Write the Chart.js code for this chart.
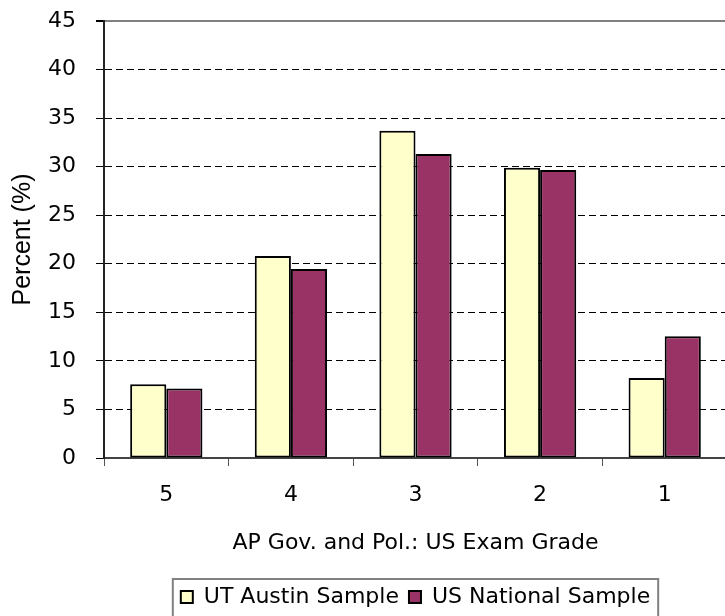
<!DOCTYPE html>
<html>
<head>
<meta charset="utf-8">
<script src="https://cdn.jsdelivr.net/npm/chart.js@4/dist/chart.umd.min.js"></script>
<style>
  html, body { margin: 0; padding: 0; background: #fff; overflow: hidden; }
</style>
</head>
<body>
<!-- a bit taller than the window: the legend frame runs off the bottom like in the original -->
<canvas id="c" width="727" height="618"></canvas>
<script>
const grades = ['5', '4', '3', '2', '1'];
const utAustin = [7.6, 20.8, 33.7, 29.9, 8.25];
const usNational = [7.15, 19.45, 31.3, 29.65, 12.55];
const yTicks = [0, 5, 10, 15, 20, 25, 30, 35, 40, 45];

// the reference is stretched sideways, so the wider DejaVu face fits the horizontal text better
const WIDE = '"DejaVu Sans", sans-serif';
const ARIAL = '"Liberation Sans", Arial, sans-serif';

// box around the legend, like the old excel style
const legendBox = {
  id: 'legendBox',
  afterDraw(chart) {
    const lg = chart.legend;
    if (!lg || !lg.legendHitBoxes.length) return;
    const boxes = lg.legendHitBoxes;
    const first = boxes[0], last = boxes[boxes.length - 1];
    const ctx = chart.ctx;
    ctx.save();
    ctx.strokeStyle = '#808080';
    ctx.lineWidth = 2;
    ctx.strokeRect(first.left - 8, first.top - 7, (last.left + last.width) - first.left + 16, 60);
    ctx.restore();
  }
};

new Chart(document.getElementById('c'), {
  type: 'bar',
  data: {
    labels: grades,
    datasets: [
      {
        label: 'UT Austin Sample',
        data: utAustin,
        backgroundColor: '#FFFFCC',
        borderColor: '#000',
        borderWidth: 2,
        borderSkipped: false
      },
      {
        label: 'US National Sample',
        data: usNational,
        backgroundColor: '#993366',
        borderColor: '#000',
        borderWidth: 2,
        borderSkipped: false
      }
    ]
  },
  options: {
    responsive: false,
    animation: false,
    devicePixelRatio: 1,
    layout: { padding: { top: 21, left: 0, right: 0, bottom: 0 } },
    datasets: { bar: { barPercentage: 1, categoryPercentage: 0.58 } },
    scales: {
      x: {
        grid: {
          offset: true,
          drawOnChartArea: false,
          tickLength: 8,
          tickColor: '#555',
          tickWidth: 1
        },
        border: { color: '#444', width: 2 },
        ticks: { color: '#000', padding: 16, font: { family: WIDE, size: 22 } },
        title: {
          display: true,
          text: 'AP Gov. and Pol.: US Exam Grade',
          color: '#000',
          font: { family: WIDE, size: 22 },
          padding: { top: 0, bottom: 20 }
        },
        afterFit(s) { s.height = 118; }
      },
      y: {
        min: 0,
        max: 45,
        afterBuildTicks(s) { s.ticks = yTicks.map(v => ({ value: v })); },
        grid: {
          color: ctx => ctx.tick.value === 45 ? '#808080' : (ctx.tick.value === 0 ? 'rgba(0,0,0,0)' : '#000'),
          lineWidth: ctx => ctx.tick.value === 45 ? 2 : 1,
          tickColor: '#000',
          tickLength: 8,
          tickBorderDash: []
        },
        border: {
          color: '#222',
          width: 2,
          dash: ctx => ctx.tick && ctx.tick.value === 45 ? [] : [7, 4]
        },
        ticks: { color: '#000', padding: 20, font: { family: WIDE, size: 22 } },
        title: {
          display: true,
          text: 'Percent (%)',
          color: '#000',
          font: { family: ARIAL, size: 25 },
          padding: { top: 8, bottom: 0 }
        },
        afterFit(s) {
          s.width = 104;
          // tick padding would otherwise push the plot top down
          s.paddingTop = 12;
          s.paddingBottom = 12;
        }
      }
    },
    plugins: {
      legend: {
        position: 'bottom',
        fullSize: false,
        labels: {
          color: '#000',
          font: { family: WIDE, size: 22 },
          boxWidth: 12,
          boxHeight: 12,
          padding: 10,
          generateLabels(chart) {
            return chart.data.datasets.map((d, i) => ({
              text: d.label,
              fillStyle: d.backgroundColor,
              strokeStyle: '#000',
              lineWidth: 2,
              datasetIndex: i
            }));
          }
        }
      },
      tooltip: { enabled: false }
    }
  },
  plugins: [legendBox]
});
</script>
</body>
</html>
